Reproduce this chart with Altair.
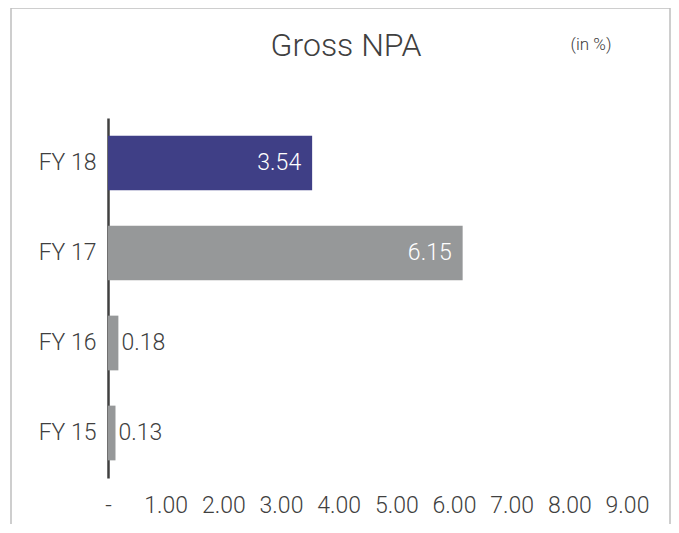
import altair as alt
import pandas as pd

categories = ["FY 18", "FY 17", "FY 16", "FY 15"]
values = [3.54, 6.15, 0.18, 0.13]
highlight = [True, False, False, False]
x_ticks = [0, 1, 2, 3, 4, 5, 6, 7, 8, 9]
title_text = "Gross NPA"
unit_text = "(in %)"

df = pd.DataFrame({"year": categories, "npa": values, "hl": highlight})

FONT = "Roboto"
TXT = "#404040"
W, H = 519, 360

y_enc = alt.Y("year:N", sort=categories, title=None,
              scale=alt.Scale(paddingInner=0.392, paddingOuter=0.196),
              axis=alt.Axis(domainColor="#404040", domainWidth=2.5, ticks=False,
                            labelFont=FONT, labelFontSize=23, labelFontWeight=300,
                            labelColor=TXT, labelPadding=12))
x_enc = alt.X("npa:Q", title=None,
              scale=alt.Scale(domain=[0, 9], nice=False),
              axis=alt.Axis(values=x_ticks, domain=False, ticks=False, grid=False,
                            labelFlush=False, labelOverlap=False,
                            labelExpr="datum.value == 0 ? '-' : format(datum.value, '.2f')",
                            labelFont=FONT, labelFontSize=23, labelFontWeight=300,
                            labelColor=TXT, labelPadding=16))

base = alt.Chart(df)

frame = alt.Chart(pd.DataFrame({"d": [0]})).mark_rect(
    fill=None, stroke="#bfbfbf", strokeWidth=1.5
).encode(x=alt.value(-97), x2=alt.value(562), y=alt.value(-110), y2=alt.value(460))

bars = base.mark_bar().encode(
    y=y_enc, x=x_enc,
    color=alt.Color("hl:N", scale=alt.Scale(domain=[True, False], range=["#3f3f86", "#969899"]), legend=None),
)

inside = base.transform_filter("datum.npa > 1").mark_text(
    align="right", dx=-11, color="white", font=FONT, fontSize=23, fontWeight=300
).encode(y=alt.Y("year:N", sort=categories), x="npa:Q", text=alt.Text("npa:Q", format=".2f"))

outside = base.transform_filter("datum.npa <= 1").mark_text(
    align="left", dx=3, color=TXT, font=FONT, fontSize=23, fontWeight=300
).encode(y=alt.Y("year:N", sort=categories), x="npa:Q", text=alt.Text("npa:Q", format=".2f"))

title = alt.Chart(pd.DataFrame({"t": [title_text]})).mark_text(
    font=FONT, fontSize=32, fontWeight=300, color=TXT, align="center", baseline="alphabetic"
).encode(text="t:N", x=alt.value(238), y=alt.value(-62))

unit = alt.Chart(pd.DataFrame({"t": [unit_text]})).mark_text(
    font=FONT, fontSize=17, fontWeight=300, color=TXT, align="center", baseline="alphabetic"
).encode(text="t:N", x=alt.value(483), y=alt.value(-68))

chart = alt.layer(frame, bars, inside, outside, title, unit).properties(
    width=W, height=H,
    padding={"left": 100, "top": 110, "right": 44, "bottom": 46},
    autosize=alt.AutoSizeParams(type="none"),
).configure(background="white").configure_view(strokeWidth=0, stroke="transparent")

chart.save("out.html", embed_options={"renderer": "svg", "actions": False})
